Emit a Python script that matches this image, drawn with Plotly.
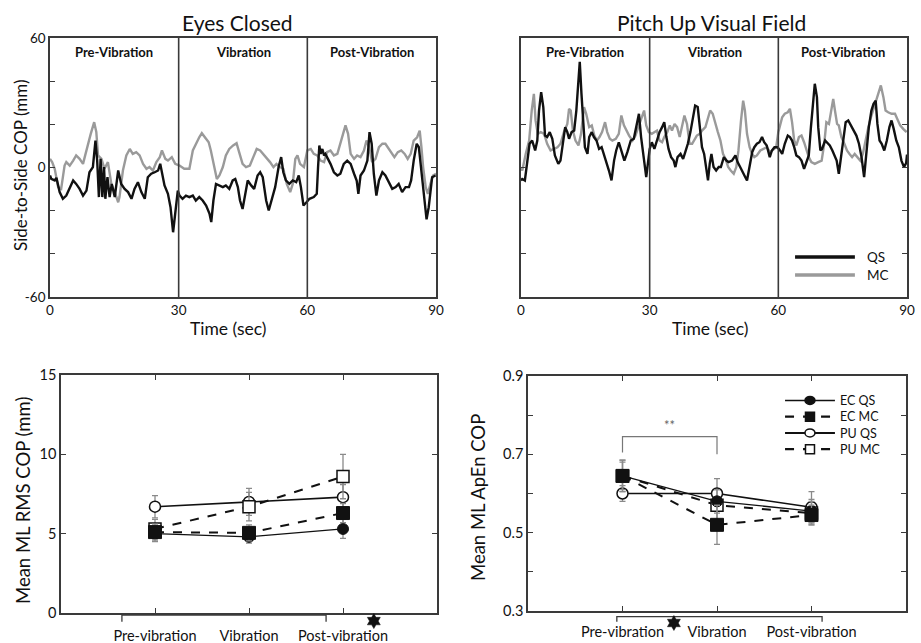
import plotly.graph_objects as go

# ---------------- data: top panels (time in s, side-to-side COP in mm) -------------
ec_qs = [(0, -3.7), (0.3, -5.3), (1.1, -6.0), (1.5, -4.8), (2.25, -11.4), (3.0, -14.5), (3.8, -13.0),
         (4.6, -9.1), (5.4, -6.0), (6.1, -7.6), (6.9, -9.9), (7.7, -13.0), (8.5, -10.7), (9.2, -2.2),
         (10.0, 0.2), (10.6, 12.5), (11.0, 3.2), (11.4, -13.7), (11.8, 4.0), (12.2, -13.7), (12.6, 0.2),
         (12.9, -14.5), (13.4, -4.5), (13.9, -13.7), (14.4, -7.6), (15.1, -13.7), (15.9, -1.4), (16.6, -7.6),
         (17.4, -9.9), (18.2, -11.4), (19.0, -14.5), (19.7, -9.9), (20.5, -6.8), (21.3, -11.4), (22.1, -14.5),
         (22.8, -4.5), (23.6, -2.9), (24.4, -2.2), (25.2, -1.4), (25.7, 1.7), (26.3, -4.5), (26.7, -8.3),
         (27.5, -12.2), (28.1, -18.4), (28.7, -30.0), (29.2, -19.9), (29.8, -10.7), (30.2, -13.0), (30.9, -14.5),
         (31.7, -13.0), (32.5, -13.7), (33.3, -13.0), (34.0, -15.3), (34.8, -13.7), (35.6, -15.3), (36.4, -17.6),
         (37.2, -21.5), (37.6, -25.3), (38.1, -15.3), (38.7, -7.6), (39.5, -8.3), (40.3, -9.1), (41.0, -8.3),
         (41.8, -9.9), (42.6, -6.0), (43.2, -5.3), (43.8, -9.1), (44.3, -15.3), (44.9, -19.2), (45.5, -12.2),
         (46.1, -6.0), (46.9, -8.3), (47.6, -9.9), (48.4, -3.7), (49.0, -2.2), (49.6, -4.5), (50.4, -15.3),
         (51.0, -19.9), (51.8, -13.7), (52.5, -9.1), (53.3, 0.2), (53.9, 4.8), (54.4, -2.2), (55.0, -6.0),
         (55.8, -7.6), (56.6, -6.0), (57.4, -6.8), (58.0, -3.7), (58.5, -9.1), (59.1, -17.6), (59.8, -16.1),
         (60.5, -14.5), (61.5, -13.7), (62.2, -12.2), (62.5, 0.2), (62.8, 10.2), (63.1, 6.3), (63.5, 8.6),
         (63.9, 5.6), (64.2, 6.3), (64.8, 4.0), (65.4, 1.7), (66.2, -2.2), (67.0, -3.7), (67.7, -2.9),
         (68.5, 1.7), (69.3, 3.2), (70.1, 1.7), (70.9, -2.9), (71.5, -6.0), (71.9, -12.2), (72.4, -3.7),
         (73.2, -1.4), (74.0, 3.2), (74.5, 16.4), (75.0, 11.0), (75.5, -2.9), (76.1, -13.0), (76.7, -6.0),
         (77.5, -2.2), (78.2, -3.7), (79.0, -6.8), (79.8, -9.9), (80.6, -9.1), (81.3, -7.6), (82.1, -11.4),
         (82.9, -9.1), (83.7, -9.1), (84.2, -6.0), (84.8, 3.2), (85.5, 11.0), (86.0, 9.4), (86.5, 0.2),
         (87.2, -12.2), (87.8, -24.0), (88.3, -18.4), (88.7, -12.2), (89.1, -4.5), (89.9, -3.7)]

ec_mc = [(0, 4.0), (0.5, 2.5), (1.1, -0.6), (1.9, -9.1), (2.6, -9.9), (3.4, 0.9), (3.8, 2.5), (4.6, 0.9),
         (5.4, 3.2), (6.1, 5.6), (6.9, 4.0), (7.7, 1.7), (8.2, 5.6), (8.9, 11.7), (9.5, 15.6), (10.3, 21.0),
         (10.8, 16.4), (11.2, 5.6), (12.0, 4.0), (12.7, -0.6), (13.5, 2.5), (14.3, -7.6), (15.1, -11.4),
         (15.9, -16.1), (16.2, -13.7), (17.0, -1.4), (17.8, 5.6), (18.6, 8.6), (19.3, 6.3), (20.1, 7.1),
         (20.9, 5.6), (21.7, 1.7), (22.5, -0.6), (23.2, 0.2), (24.0, -1.4), (24.8, 2.5), (25.6, 4.8),
         (26.1, 7.9), (26.9, 4.0), (27.5, 3.2), (28.4, 4.8), (29.2, 1.7), (30.2, 0.9), (31.3, -0.6),
         (32.5, -0.6), (33.3, 7.9), (34.0, 11.0), (34.8, 14.0), (35.4, 15.9), (36.2, 14.0), (37.0, 11.7),
         (37.5, 7.9), (38.1, 1.7), (38.9, -5.3), (39.5, -3.7), (40.3, 0.2), (41.0, 5.6), (41.8, 8.6),
         (42.7, 10.2), (43.5, 11.3), (44.1, 7.1), (44.9, 1.7), (45.7, 0.2), (46.6, 0.9), (47.4, 4.8),
         (48.2, 8.6), (49.0, 7.9), (49.7, 6.3), (50.5, 4.8), (51.3, 2.5), (52.1, 0.2), (52.8, 1.7),
         (53.6, 0.2), (54.4, -0.6), (55.2, -7.6), (56.0, -11.4), (56.6, -7.6), (57.2, 4.0), (57.7, 5.6),
         (58.3, 1.7), (59.2, 0.2), (60.0, 7.9), (60.8, 8.6), (61.5, 6.3), (62.3, 5.6), (63.1, 3.2),
         (63.9, 2.5), (64.6, 7.1), (65.4, 7.9), (66.2, 5.6), (67.0, 6.3), (67.7, 11.0), (68.4, 15.6),
         (68.9, 19.5), (69.5, 15.6), (70.1, 6.3), (70.9, 4.0), (71.6, 5.6), (72.4, 4.8), (73.2, 7.9),
         (73.8, 12.5), (74.4, 9.4), (75.1, 2.5), (75.9, 4.0), (76.7, 9.4), (77.5, 11.0), (78.2, 11.0),
         (79.0, 8.6), (79.8, 6.3), (80.3, 4.8), (81.1, 7.1), (81.9, 7.9), (82.7, 6.3), (83.4, 4.0),
         (84.1, 6.3), (84.8, 12.5), (85.6, 14.0), (86.2, 17.1), (86.6, 9.4), (87.0, 0.2), (87.6, -9.1),
         (88.1, -12.2), (88.7, -7.6), (89.3, -3.7), (90.0, -2.9)]

pu_qs = [(0, -6.0), (0.3, -5.3), (0.9, -6.0), (1.5, 3.2), (2.0, 11.0), (2.6, 12.5), (3.3, 7.9), (3.8, 12.5),
         (4.2, 26.4), (4.7, 34.9), (5.2, 28.0), (5.6, 14.8), (6.1, 14.1), (6.7, 16.4), (7.3, 13.3), (7.9, 5.6),
         (8.7, 1.7), (9.2, 3.2), (9.8, 12.5), (10.3, 18.7), (10.8, 16.4), (11.2, 13.3), (11.8, 16.4),
         (12.4, 17.1), (12.9, 26.4), (13.4, 41.9), (13.7, 49.0), (14.1, 34.1), (14.5, 19.5), (14.9, 9.4),
         (15.5, 6.3), (15.9, 14.1), (16.5, 16.4), (17.0, 14.1), (17.6, 12.5), (18.2, 8.6), (18.8, 9.4),
         (19.3, 6.3), (19.9, 1.7), (20.5, -1.4), (21.1, -6.0), (21.7, 3.2), (22.2, 7.9), (22.8, 11.7),
         (23.5, 7.1), (24.1, 3.2), (24.8, 7.1), (25.6, 12.5), (26.3, 13.3), (26.9, 18.7), (27.5, 24.9),
         (28.0, 14.1), (28.7, 1.7), (29.2, -4.5), (30.0, 8.6), (30.5, 11.7), (31.1, 8.6), (31.7, 12.5),
         (32.3, 16.4), (32.9, 18.7), (33.4, 21.0), (33.9, 14.1), (34.4, 8.6), (35.0, 4.8), (35.6, 3.2),
         (36.0, 0.2), (36.5, 4.8), (37.2, 6.3), (37.8, 4.0), (38.3, 7.1), (38.9, 11.0), (39.5, 16.4),
         (40.1, 23.3), (40.6, 28.7), (41.2, 28.0), (41.7, 18.7), (42.2, 9.4), (42.7, 6.3), (43.2, 0.2),
         (43.6, -6.0), (44.0, 1.7), (44.4, 6.3), (44.9, 0.2), (45.5, -1.4), (46.1, 0.2), (46.6, 0.2),
         (47.3, 4.8), (47.9, 3.2), (48.4, 2.5), (49.2, 3.2), (50.0, 5.6), (50.5, 2.5), (51.1, 0.2),
         (51.8, -2.9), (52.3, -4.5), (52.7, -6.0), (53.3, 0.2), (53.9, 7.1), (54.4, 9.4), (55.0, 11.0),
         (55.6, 11.7), (56.2, 14.1), (56.7, 11.7), (57.3, 10.2), (58.0, 4.8), (58.5, 7.9), (59.1, 9.4),
         (59.8, 9.4), (60.4, 7.9), (60.9, 6.3), (61.5, 11.0), (62.2, 14.8), (62.7, 14.1), (63.2, 12.5),
         (63.7, 9.4), (64.2, 5.6), (64.8, 4.8), (65.4, 3.2), (66.0, -0.6), (66.6, 2.5), (67.1, 5.6),
         (67.6, 18.7), (68.1, 29.5), (68.5, 38.8), (69.0, 32.6), (69.3, 18.7), (69.8, 7.9), (70.2, 8.6),
         (70.9, 12.5), (71.5, 11.0), (72.0, 10.2), (72.6, 7.9), (73.0, 6.3), (73.6, 3.2), (74.1, -2.9),
         (74.6, 4.8), (75.1, 14.1), (75.7, 21.0), (76.3, 21.8), (76.9, 19.5), (77.5, 17.9), (78.2, 14.8),
         (78.8, 11.0), (79.4, 4.8), (80.0, -4.5), (80.6, 7.9), (81.1, 18.7), (81.7, 26.4), (82.2, 29.5),
         (82.7, 31.0), (83.1, 20.2), (83.6, 12.5), (84.1, 11.0), (84.7, 7.9), (85.3, 12.5), (85.9, 18.7),
         (86.4, 21.8), (86.9, 17.9), (87.5, 12.5), (88.1, 9.4), (88.7, 3.2), (89.3, 0.2), (89.8, 2.0),
         (90.0, 6.0)]

pu_mc = [(0, 0.0), (0.3, -1.4), (1.1, 6.3), (1.9, 12.5), (2.5, 26.4), (3.0, 34.1), (3.4, 21.8), (3.9, 15.6),
         (4.6, 16.4), (5.4, 15.6), (6.1, 11.0), (6.9, 7.9), (7.7, 8.6), (8.5, 9.4), (9.2, 11.0), (10.0, 16.4),
         (10.8, 20.2), (11.2, 27.2), (11.6, 26.4), (12.1, 17.1), (12.7, 12.5), (13.4, 10.2), (14.0, 15.6),
         (14.7, 28.0), (15.2, 24.9), (15.9, 18.7), (16.5, 19.5), (17.1, 14.8), (17.7, 12.5), (18.3, 14.1),
         (18.9, 16.4), (19.6, 21.0), (20.1, 16.4), (20.7, 13.3), (21.3, 12.5), (22.1, 13.3), (22.8, 15.6),
         (23.4, 24.1), (24.0, 19.5), (24.6, 17.1), (25.2, 14.8), (26.0, 12.5), (26.7, 14.8), (27.5, 19.5),
         (28.1, 23.3), (28.7, 26.4), (29.2, 19.5), (29.8, 16.4), (30.5, 15.6), (31.1, 16.4), (31.7, 17.1),
         (32.3, 12.5), (32.9, 11.7), (33.4, 14.1), (34.1, 16.4), (34.7, 19.5), (35.2, 17.1), (35.8, 20.2),
         (36.4, 18.7), (37.0, 14.1), (37.5, 18.7), (38.1, 24.1), (38.7, 20.2), (39.3, 11.0), (39.9, 11.0),
         (40.4, 12.5), (41.0, 14.8), (41.7, 15.6), (42.2, 17.1), (43.0, 18.7), (43.6, 23.3), (44.1, 26.4),
         (44.7, 24.9), (45.3, 20.2), (45.9, 16.4), (46.5, 12.5), (47.1, 6.3), (47.7, 4.0), (48.3, 0.2),
         (48.9, -1.4), (49.6, -2.9), (50.2, 0.2), (50.7, 7.9), (51.3, 21.8), (51.8, 31.0), (52.2, 26.4),
         (52.7, 15.6), (53.3, 9.4), (53.9, 6.3), (54.4, 4.8), (55.0, 5.6), (55.8, 7.9), (56.6, 8.6),
         (57.3, 9.4), (58.1, 7.1), (58.9, 8.6), (59.5, 9.4), (60.0, 16.4), (60.4, 20.2), (60.9, 23.3),
         (61.5, 24.9), (62.2, 25.6), (62.7, 27.2), (63.2, 21.0), (63.7, 12.5), (64.2, 10.2), (64.8, 14.1),
         (65.4, 14.8), (66.0, 11.7), (66.6, 7.9), (67.1, 4.8), (67.7, 2.5), (68.5, 1.7), (69.3, 2.5),
         (70.1, 3.2), (70.7, 11.0), (71.2, 21.0), (71.8, 20.2), (72.2, 24.9), (72.8, 31.8), (73.2, 26.4),
         (73.7, 20.2), (74.1, 19.5), (74.7, 14.1), (75.4, 11.0), (76.0, 7.9), (76.6, 6.3), (77.2, 4.8),
         (77.8, 6.3), (78.5, 4.8), (79.1, 3.2), (79.7, 6.3), (80.3, 12.5), (81.0, 18.7), (81.6, 23.3),
         (82.1, 26.4), (82.7, 29.5), (83.4, 34.1), (83.9, 38.0), (84.5, 32.6), (85.0, 26.4), (85.6, 25.6),
         (86.4, 24.9), (87.2, 24.9), (87.8, 22.5), (88.4, 19.5), (89.1, 17.9), (89.9, 16.4)]

time_ticks = [0, 30, 60, 90]
cop_ticks = [-60, -40, -20, 0, 20, 40, 60]
cop_ticktext = ["-60", "", "", "0", "", "", "60"]
phase_labels = ["Pre-Vibration", "Vibration", "Post-Vibration"]
phase_centers = [15, 45, 75]
phase_bounds = [30, 60]

# ---------------- data: bottom panels -------------
conditions = ["Pre-vibration", "Vibration", "Post-vibration"]
cond_pos = [1, 2, 3]

rms_ec_qs = [5.0, 4.8, 5.3]
rms_ec_qs_err = [0.5, 0.4, 0.6]
rms_ec_mc = [5.1, 5.05, 6.3]
rms_ec_mc_err = [0.5, 0.5, 0.6]
rms_pu_qs = [6.7, 7.0, 7.3]
rms_pu_qs_err = [0.7, 0.85, 0.8]
rms_pu_mc = [5.3, 6.7, 8.6]
rms_pu_mc_err = [0.6, 0.9, 1.4]

apen_ec_qs = [0.645, 0.58, 0.555]
apen_ec_qs_err = [0.04, 0.03, 0.03]
apen_ec_mc = [0.645, 0.52, 0.545]
apen_ec_mc_err = [0.035, 0.05, 0.025]
apen_pu_qs = [0.60, 0.60, 0.565]
apen_pu_qs_err = [0.02, 0.038, 0.04]
apen_pu_mc = [0.645, 0.57, 0.55]
apen_pu_mc_err = [0.04, 0.04, 0.03]

rms_ticks = [0, 5, 10, 15]
apen_ticks = [0.3, 0.4, 0.5, 0.6, 0.7, 0.8, 0.9]
apen_ticktext = ["0.3", "", "0.5", "", "0.7", "", "0.9"]

legend_names = ["EC QS", "EC MC", "PU QS", "PU MC"]

FONT = "Lato"
BLACK = "#111111"
GRAY = "#9a9a9a"
AX = "#3a3a3a"
ERR = "#8a8a8a"

fig = go.Figure()

def unzip(pairs):
    return [p[0] for p in pairs], [p[1] for p in pairs]

# top panels
for pairs, color, xa, ya in [(ec_mc, GRAY, "x", "y"), (ec_qs, BLACK, "x", "y"),
                             (pu_mc, GRAY, "x2", "y2"), (pu_qs, BLACK, "x2", "y2")]:
    t, v = unzip(pairs)
    fig.add_trace(go.Scatter(x=t, y=v, mode="lines", xaxis=xa, yaxis=ya,
                             line=dict(color=color, width=2.4), showlegend=False, hoverinfo="skip"))

styles = {
    "EC QS": dict(line=dict(color=BLACK, width=1.3, dash="solid"),
                  marker=dict(symbol="circle", size=11, color=BLACK, line=dict(color=BLACK, width=1))),
    "EC MC": dict(line=dict(color=BLACK, width=2, dash="dash"),
                  marker=dict(symbol="square", size=13, color=BLACK, line=dict(color=BLACK, width=1))),
    "PU QS": dict(line=dict(color=BLACK, width=1.6, dash="solid"),
                  marker=dict(symbol="circle", size=11, color="white", line=dict(color=BLACK, width=1.5))),
    "PU MC": dict(line=dict(color=BLACK, width=2, dash="dash"),
                  marker=dict(symbol="square", size=12, color="white", line=dict(color=BLACK, width=1.5))),
}

bottom_series = [
    ("x3", "y3", [("PU QS", rms_pu_qs, rms_pu_qs_err), ("PU MC", rms_pu_mc, rms_pu_mc_err),
                  ("EC QS", rms_ec_qs, rms_ec_qs_err), ("EC MC", rms_ec_mc, rms_ec_mc_err)]),
    ("x4", "y4", [("PU QS", apen_pu_qs, apen_pu_qs_err), ("PU MC", apen_pu_mc, apen_pu_mc_err),
                  ("EC QS", apen_ec_qs, apen_ec_qs_err), ("EC MC", apen_ec_mc, apen_ec_mc_err)]),
]
for xa, ya, series in bottom_series:
    for name, vals, errs in series:
        st = styles[name]
        fig.add_trace(go.Scatter(
            x=cond_pos, y=vals, mode="lines+markers", name=name, xaxis=xa, yaxis=ya,
            line=st["line"], marker=st["marker"], showlegend=False, hoverinfo="skip",
            error_y=dict(type="data", array=errs, color=ERR, thickness=1.3, width=3)))

axis_common = dict(showline=True, linecolor=AX, linewidth=1.5, mirror="ticks", ticks="inside",
                   ticklen=5, tickcolor=AX, tickwidth=1.3, showgrid=False, zeroline=False,
                   tickfont=dict(family=FONT, size=13.5, color=BLACK))
big_tick = dict(axis_common, tickfont=dict(family=FONT, size=14.5, color=BLACK))

top_y = [1 - 297 / 643, 1 - 38 / 643]
fig.update_layout(
    width=921, height=643, margin=dict(l=0, r=0, t=0, b=0, autoexpand=False), autosize=False,
    paper_bgcolor="white", plot_bgcolor="white",
    font=dict(family=FONT, color=BLACK),
    xaxis=dict(domain=[50 / 921, 436 / 921], range=[0, 90], tickvals=time_ticks, anchor="y", **axis_common),
    yaxis=dict(domain=top_y, range=[-60, 60], tickvals=cop_ticks, ticktext=cop_ticktext, anchor="x", **axis_common),
    xaxis2=dict(domain=[521 / 921, 907 / 921], range=[0, 90], tickvals=time_ticks, anchor="y2", **axis_common),
    yaxis2=dict(domain=top_y, range=[-60, 60], tickvals=cop_ticks, showticklabels=False, anchor="x2", **axis_common),
    xaxis3=dict(domain=[61 / 921, 437 / 921], range=[0, 4], tickvals=cond_pos, ticktext=conditions,
                anchor="y3", ticklabelstandoff=9, **big_tick),
    yaxis3=dict(domain=[1 - 613 / 643, 1 - 375 / 643], range=[0, 15], tickvals=rms_ticks, anchor="x3", **big_tick),
    xaxis4=dict(domain=[528 / 921, 906 / 921], range=[0, 4], tickvals=cond_pos, ticktext=conditions,
                anchor="y4", ticklabelstandoff=7, **big_tick),
    yaxis4=dict(domain=[1 - 611 / 643, 1 - 376 / 643], range=[0.3, 0.9], tickvals=apen_ticks,
                ticktext=apen_ticktext, anchor="x4", **big_tick),
)

shapes = []
for xr in ["x", "x2"]:
    for b in phase_bounds:
        shapes.append(dict(type="line", xref=xr, yref=xr.replace("x", "y") + " domain", x0=b, x1=b, y0=0, y1=1,
                           line=dict(color=AX, width=1.6)))
# significance bracket (ApEn)
shapes.append(dict(type="path", xref="x4", yref="y4", path="M 1,0.705 L 1,0.745 L 2,0.745 L 2,0.70",
                   line=dict(color="#777777", width=1.2)))
# brackets below the category axes
shapes.append(dict(type="path", xref="x3 domain", yref="y3 domain",
                   path="M 0.162,-0.037 L 0.162,-0.009 L 0.705,-0.009 L 0.705,-0.037",
                   line=dict(color=AX, width=1.3)))
shapes.append(dict(type="path", xref="x4 domain", yref="y4 domain",
                   path="M 0.235,-0.046 L 0.235,-0.024 L 0.778,-0.024 L 0.778,-0.046",
                   line=dict(color=AX, width=1.3)))
# six-pointed significance stars
star_path = ("M 0,7.5 L -2.165,3.75 L -6.495,3.75 L -4.33,0 L -6.495,-3.75 L -2.165,-3.75 L 0,-7.5 "
             "L 2.165,-3.75 L 6.495,-3.75 L 4.33,0 L 6.495,3.75 L 2.165,3.75 Z")
for xr, yr, xa_, ya_ in [("x3 domain", "y3 domain", 0.832, -0.034), ("x4 domain", "y4 domain", 0.386, -0.051)]:
    shapes.append(dict(type="path", xref=xr, yref=yr, xsizemode="pixel", ysizemode="pixel",
                       xanchor=xa_, yanchor=ya_, path=star_path, fillcolor=BLACK,
                       line=dict(color=BLACK, width=0.5)))
# legend (top right): QS / MC
shapes.append(dict(type="line", xref="x2 domain", yref="y2 domain", x0=0.71, x1=0.865, y0=0.154, y1=0.154,
                   line=dict(color=BLACK, width=3.5)))
shapes.append(dict(type="line", xref="x2 domain", yref="y2 domain", x0=0.71, x1=0.865, y0=0.085, y1=0.085,
                   line=dict(color=GRAY, width=3.5)))
# legend (bottom right)
leg_font = 12.5
row_px = 1.3 * leg_font
leg_top = 0.896
leg_rows = [leg_top - i * row_px / 235 for i in range(4)]
for name, yy in zip(legend_names, leg_rows):
    st = styles[name]
    shapes.append(dict(type="line", xref="x4 domain", yref="y4 domain", x0=0.68, x1=0.812, y0=yy, y1=yy,
                       line=dict(color=BLACK, width=st["line"]["width"] + 0.3, dash=st["line"]["dash"])))
    m = st["marker"]
    sq = m["symbol"] == "square"
    shapes.append(dict(type="rect" if sq else "circle",
                       xref="x4 domain", yref="y4 domain", xsizemode="pixel", ysizemode="pixel",
                       xanchor=0.746, yanchor=yy, x0=-4.5 if sq else -5, x1=4.5 if sq else 5,
                       y0=-4.5 if sq else -4, y1=4.5 if sq else 4,
                       fillcolor=m["color"], line=dict(color=BLACK, width=1.5), layer="above"))
fig.update_layout(shapes=shapes)

def A(**kw):
    d = dict(showarrow=False, xanchor="center", yanchor="middle")
    d.update(kw)
    return d

ann = []
ann.append(A(text="Eyes Closed", xref="paper", yref="paper", x=237 / 921, y=1 - 22 / 643,
             font=dict(family=FONT, size=21, color=BLACK)))
ann.append(A(text="Pitch Up Visual Field", xref="paper", yref="paper", x=711 / 921, y=1 - 22 / 643,
             font=dict(family=FONT, size=21, color=BLACK)))
ann.append(A(text="Side-to-Side COP (mm)", xref="paper", yref="paper", x=20 / 921, y=1 - 165 / 643,
             textangle=-90, font=dict(family=FONT, size=17, color=BLACK)))
for xc in [228, 710]:
    ann.append(A(text="Time (sec)", xref="paper", yref="paper", x=xc / 921, y=1 - 328 / 643,
                 font=dict(family=FONT, size=17.5, color=BLACK)))
ann.append(A(text="Mean ML RMS COP (mm)", xref="paper", yref="paper", x=23 / 921, y=1 - 501 / 643,
             textangle=-90, font=dict(family=FONT, size=18.5, color=BLACK)))
ann.append(A(text="Mean ML ApEn COP", xref="paper", yref="paper", x=478 / 921, y=1 - 498 / 643,
             textangle=-90, font=dict(family=FONT, size=18.5, color=BLACK)))
for xr in ["x", "x2"]:
    for lab, c in zip(phase_labels, phase_centers):
        ann.append(A(text="<b>" + lab + "</b>", xref=xr, yref=xr.replace("x", "y") + " domain",
                     x=c, y=0.946, font=dict(family=FONT, size=13, color=BLACK)))
ann.append(A(text="QS<br>MC", xref="x2 domain", yref="y2 domain", x=0.893, y=(0.154 + 0.085) / 2,
             xanchor="left", align="left", borderpad=0,
             font=dict(family=FONT, size=13.5, color=BLACK)))
ann.append(A(text="<br>".join(legend_names), xref="x4 domain", yref="y4 domain", x=0.822,
             y=(leg_rows[0] + leg_rows[-1]) / 2, xanchor="left", align="left", borderpad=0,
             font=dict(family=FONT, size=leg_font, color=BLACK)))
ann.append(A(text="**", xref="x4", yref="y4", x=1.5, y=0.775,
             font=dict(family=FONT, size=13, color="#666666")))
fig.update_layout(annotations=ann)

fig.write_html("out.html", config={"displayModeBar": False},
               post_script="document.body.style.margin='0';document.body.style.overflow='hidden';")
